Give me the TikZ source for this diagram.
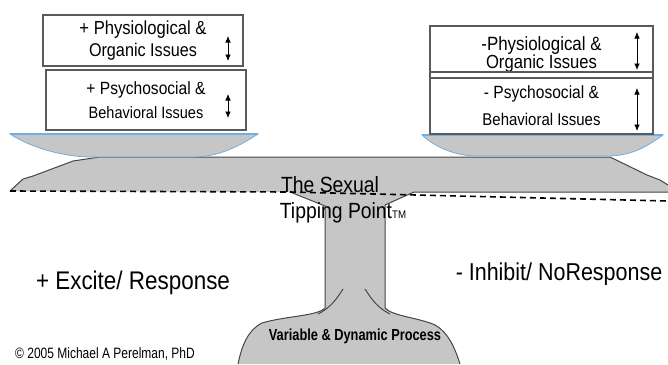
\documentclass[tikz,border=0pt]{standalone}
\usepackage{fontspec}
\setmainfont{Liberation Sans}[FakeStretch=0.88]
\newfontfamily\narrowfont[FakeStretch=0.8]{Liberation Sans}
\usetikzlibrary{arrows.meta}
\definecolor{beamgray}{RGB}{198,198,198}
\definecolor{edgegray}{RGB}{70,70,70}
\definecolor{panblue}{RGB}{110,175,230}
\definecolor{boxline}{RGB}{90,90,90}
\tikzset{
	issuebox/.style={draw=boxline,line width=1.1pt,fill=white,align=center,inner sep=0pt},
	updown/.style={{Latex[length=6.5pt,width=5.5pt]}-{Latex[length=6.5pt,width=5.5pt]},line width=0.7pt},
	pan/.style={fill=beamgray,draw=panblue,line width=0.8pt},
	panrim/.style={draw=panblue,line width=2pt},
	beamedge/.style={draw=edgegray,line width=1pt,line join=round},
	tipline/.style={line width=1.6pt,dash pattern=on 6pt off 4pt}
}

\begin{document}
\begin{tikzpicture}[x=1pt,y=-1pt]
	\useasboundingbox (0,0) rectangle (668,364);
	% beam and post
	\fill[beamgray] (10,191) -- (23,179) -- (33,176) -- (73,161) -- (100,157) -- (610,157) -- (647,175) -- (660,180) -- (668,185)
		-- (668,192) -- (414,192) -- (385,205) -- (385,308)
		.. controls (392,316) and (420,318) .. (435,325) .. controls (448,332) and (455,348) .. (460,364)
		-- (238,364) .. controls (242,345) and (248,330) .. (262,323)
		.. controls (285,316) and (318,316) .. (325,308) -- (325,206) -- (290,192) -- cycle;
	\draw[beamedge] (10,191) -- (23,179) -- (33,176) -- (73,161) -- (100,157) -- (610,157) -- (647,175) -- (660,180) -- (668,185);
	\draw[beamedge] (668,192) -- (414,192) -- (385,205) -- (385,308)
		.. controls (392,316) and (420,318) .. (435,325) .. controls (448,332) and (455,348) .. (460,364);
	\draw[beamedge] (290,192) -- (325,206) -- (325,308)
		.. controls (318,316) and (285,316) .. (262,323) .. controls (248,330) and (242,345) .. (238,364);
	\draw[beamedge] (343,289) .. controls (336,300) and (330,308) .. (318,314);
	\draw[beamedge] (365,289) .. controls (372,300) and (378,308) .. (390,314);
	% pans
	\filldraw[pan] (10,134) -- (258,134) .. controls (238,147) and (218,157) .. (192,157) -- (92,157)
		.. controls (62,157) and (30,147) .. (10,134) -- cycle;
	\draw[panrim] (10,134) -- (258,134);
	\filldraw[pan] (422,135) -- (663,135) .. controls (645,148) and (630,156) .. (607,156) -- (477,156)
		.. controls (455,156) and (435,147) .. (422,135) -- cycle;
	\draw[panrim] (422,135) -- (663,135);
	% issue boxes
	\node[issuebox,minimum width=200pt,minimum height=51pt,font=\fontsize{18pt}{22pt}\selectfont] (lphys) at (143,40.5)
		{{\fontsize{18.9pt}{22pt}\selectfont + Physiological \&}\\{\fontsize{18.4pt}{22pt}\selectfont Organic Issues}};
	\node[issuebox,minimum width=200pt,minimum height=60pt,font=\fontsize{17pt}{24pt}\selectfont] (lpsy) at (146,100)
		{{\fontsize{17.7pt}{24pt}\selectfont + Psychosocial \&}\\{\fontsize{16.5pt}{24pt}\selectfont Behavioral Issues}};
	\node[issuebox,minimum width=223pt,minimum height=46pt,font=\fontsize{18pt}{18pt}\selectfont] (rphys) at (541.5,49)
		{{\fontsize{19.2pt}{18pt}\selectfont \rule{0pt}{24pt}-Physiological \&}\\{\fontsize{18.9pt}{18pt}\selectfont Organic Issues}};
	\node[issuebox,minimum width=223pt,minimum height=6pt] (rgap) at (541.5,75) {};
	\node[issuebox,minimum width=223pt,minimum height=56pt,font=\fontsize{17pt}{27pt}\selectfont] (rpsy) at (541.5,106)
		{{\fontsize{17.7pt}{27pt}\selectfont - Psychosocial \&}\\{\fontsize{17pt}{27pt}\selectfont Behavioral Issues}};
	\coordinate (la1) at (228,36);  \coordinate (la2) at (228,61);
	\coordinate (lb1) at (228,94);  \coordinate (lb2) at (228,118);
	\coordinate (ra1) at (637,32);  \coordinate (ra2) at (637,70);
	\coordinate (rb1) at (637,88);  \coordinate (rb2) at (637,131);
	\draw[updown] (la1) -- (la2);
	\draw[updown] (lb1) -- (lb2);
	\draw[updown] (ra1) -- (ra2);
	\draw[updown] (rb1) -- (rb2);
	% tipping line
	\coordinate (tl) at (10,191);
	\coordinate (tm) at (290,192);
	\coordinate (tr) at (668,201);
	\draw[tipline] (tl) -- (tm) -- (tr);
	% labels
	\node[font=\fontsize{22pt}{22pt}\selectfont] (sexual) at (330,185) {The Sexual};
	\node[font=\fontsize{22pt}{22pt}\selectfont] (tipping) at (343,213) {Tipping Point{\fontsize{11pt}{11pt}\selectfont TM}};
	\node[font=\fontsize{25.5pt}{26pt}\selectfont] (excite) at (133,283) {+ Excite/ Response};
	\node[font=\fontsize{24.4pt}{26pt}\selectfont] (inhibit) at (559,274) {- Inhibit/ NoResponse};
	\node[font=\narrowfont\bfseries\fontsize{16pt}{16pt}\selectfont] (process) at (355,336) {Variable \& Dynamic Process};
	\node[font=\narrowfont\fontsize{15pt}{15pt}\selectfont] (copyright) at (105,354) {© 2005 Michael A Perelman, PhD};
\end{tikzpicture}
\end{document}
